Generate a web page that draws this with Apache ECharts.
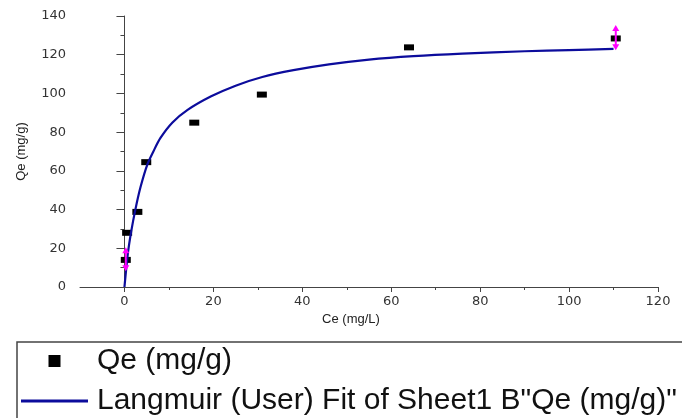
<!DOCTYPE html>
<html>
<head>
<meta charset="utf-8">
<script src="https://cdn.jsdelivr.net/npm/echarts@6/dist/echarts.min.js"></script>
<style>
  html, body { margin: 0; padding: 0; background: #fff; }
  #chart { width: 682px; height: 418px; }
</style>
</head>
<body>
<div id="chart"></div>
<script>
// measured points
const ceData = [0.3, 0.6, 2.9, 4.9, 15.7, 30.9, 64.0, 110.5]
const qeData = [14, 28, 38.8, 64.5, 84.9, 99.4, 123.8, 128.4]

// fitted curve
const fitCe = [0, 0.75, 1.5, 2.5, 3.6, 5.1, 6.5, 8.1, 10.8, 14.2, 19.5, 25, 31, 38, 46, 55, 65, 76, 90, 100, 110]
const fitQe = [0, 17, 28.5, 40.5, 51.5, 63, 70, 77, 85, 91.5, 98.5, 104, 108.5, 112, 115, 117.5, 119.3, 120.6, 121.8, 122.4, 123]

// error bars (x, low, high)
const errCe = [0.3, 110.5]
const errLow = [8.2, 122.3]
const errHigh = [20.5, 135.3]

const xMajorTicks = [0, 20, 40, 60, 80, 100, 120]
const xMinorTicks = [10, 30, 50, 70, 90, 110]

const scatterName = 'Qe (mg/g)'
const fitName = 'Langmuir (User) Fit of Sheet1 B"Qe (mg/g)"'

const chart = echarts.init(document.getElementById('chart'))

const axisColor = '#444'
const labelStyle = { color: '#333', fontSize: 13, fontFamily: 'DejaVu Sans' }

const option = {
  animation: false,
  backgroundColor: '#fff',
  grid: { left: 80, right: 24, top: 16, bottom: 131 },
  legend: {
    orient: 'vertical',
    left: 17,
    top: 342,
    height: 150,
    padding: [4, 30, 30, 4],
    itemGap: 10,
    itemWidth: 67,
    itemHeight: 12,
    symbolKeepAspect: true,
    borderColor: '#444',
    borderWidth: 1.5,
    data: [
      { name: scatterName, icon: 'path://M0,0H12V12H0Z', itemStyle: { color: '#000' } },
      { name: fitName, icon: 'path://M0,0H67V3H0Z', itemStyle: { color: '#0c0c9c' } },
    ],
    textStyle: {
      fontSize: 30,
      fontFamily: 'Liberation Sans',
      color: '#111',
      padding: [0, 0, 0, 4],
    },
  },
  xAxis: [
    {
      type: 'value',
      min: -10,
      max: 120,
      name: 'Ce (mg/L)',
      nameLocation: 'middle',
      nameGap: 26,
      nameTextStyle: { color: '#222', fontSize: 13, fontFamily: 'Liberation Sans', padding: [0, 36, 0, 0] },
      splitLine: { show: false },
      axisLine: { onZero: false, lineStyle: { color: axisColor, width: 1 } },
      axisTick: { customValues: xMajorTicks, length: 5, lineStyle: { color: axisColor } },
      axisLabel: { customValues: xMajorTicks, margin: 8, ...labelStyle },
    },
    {
      type: 'value',
      min: -10,
      max: 120,
      position: 'bottom',
      splitLine: { show: false },
      axisLine: { show: false },
      axisTick: { customValues: xMinorTicks, length: 3, lineStyle: { color: axisColor } },
      axisLabel: { show: false },
    },
  ],
  yAxis: {
    type: 'value',
    min: 0,
    max: 140,
    interval: 20,
    name: 'Qe (mg/g)',
    nameLocation: 'middle',
    nameGap: 52,
    nameTextStyle: { color: '#222', fontSize: 13, fontFamily: 'Liberation Sans' },
    splitLine: { show: false },
    axisLine: { show: true, lineStyle: { color: axisColor, width: 1 } },
    axisTick: { show: true, length: 8, lineStyle: { color: axisColor } },
    minorTick: { show: true, splitNumber: 2, length: 4, lineStyle: { color: axisColor } },
    axisLabel: { margin: 14, ...labelStyle },
  },
  series: [
    {
      name: scatterName,
      type: 'scatter',
      symbol: 'rect',
      symbolSize: [10, 6],
      itemStyle: { color: '#000', opacity: 1 },
      data: ceData.map((c, i) => [c, qeData[i]]),
      z: 2,
    },
    {
      name: fitName,
      type: 'line',
      smooth: 0.3,
      symbol: 'none',
      lineStyle: { color: '#0c0c9c', width: 2.2 },
      itemStyle: { color: '#0c0c9c' },
      data: fitCe.map((c, i) => [c, fitQe[i]]),
      z: 3,
    },
    {
      name: 'err',
      type: 'custom',
      z: 4,
      data: errCe.map((c, i) => [c, errLow[i], errHigh[i]]),
      renderItem: (params, api) => {
        const top = api.coord([api.value(0), api.value(2)])
        const bot = api.coord([api.value(0), api.value(1)])
        const col = '#ff00ff'
        return {
          type: 'group',
          children: [
            { type: 'line', shape: { x1: top[0], y1: top[1] + 3, x2: bot[0], y2: bot[1] - 3 }, style: { stroke: col, lineWidth: 2 } },
            { type: 'polygon', shape: { points: [[top[0], top[1]], [top[0] - 3.5, top[1] + 6], [top[0] + 3.5, top[1] + 6]] }, style: { fill: col } },
            { type: 'polygon', shape: { points: [[bot[0], bot[1]], [bot[0] - 3.5, bot[1] - 6], [bot[0] + 3.5, bot[1] - 6]] }, style: { fill: col } },
          ],
        }
      },
    },
  ],
}

chart.setOption(option)
window.addEventListener('resize', () => chart.resize())
</script>
</body>
</html>
